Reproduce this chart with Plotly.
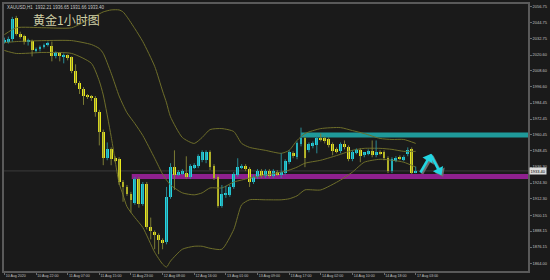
import math
import plotly.graph_objects as go

# ---------------- data (XAUUSD H1) ----------------
open_ = [2030.71, 2030.71, 2032.94, 2048.57, 2036.66, 2035.17, 2030.71, 2031.45, 2024.01, 2024.76,
         2026.99, 2028.48, 2027.73, 2019.55, 2021.78, 2019.55, 2020.29, 2018.81, 2008.39, 1999.46,
         1995.00, 1989.79, 1989.05, 1988.30, 1977.89, 1963.01, 1942.92, 1949.61, 1942.92, 1942.17,
         1925.06, 1921.34, 1916.13, 1909.44, 1927.29, 1908.69, 1923.57, 1890.84, 1887.12, 1884.89,
         1881.17, 1879.68, 1913.90, 1936.22, 1931.01, 1931.76, 1931.76, 1928.78, 1936.22, 1936.97,
         1941.43, 1941.43, 1947.38, 1936.97, 1928.78, 1907.21, 1915.39, 1915.39, 1921.34, 1930.27,
         1936.22, 1936.97, 1934.73, 1925.06, 1928.78, 1933.25, 1929.53, 1933.25, 1929.53, 1932.50,
         1931.01, 1931.76, 1939.94, 1946.64, 1943.66, 1953.33, 1957.80, 1948.87, 1952.59, 1952.59,
         1958.54, 1957.80, 1957.05, 1953.33, 1949.61, 1948.13, 1953.33, 1951.10, 1942.17, 1947.38,
         1948.87, 1945.15, 1946.64, 1948.13, 1945.15, 1947.38, 1947.38, 1942.92, 1933.25, 1941.43,
         1943.66, 1942.17, 1945.89, 1949.61, 1932.21]
high = [2033.69, 2034.43, 2049.31, 2050.05, 2038.15, 2035.92, 2032.94, 2032.20, 2026.25, 2027.73,
        2029.22, 2030.71, 2030.71, 2023.27, 2022.53, 2021.78, 2021.04, 2019.55, 2013.60, 2000.95,
        1996.49, 1991.28, 1990.53, 1989.79, 1979.37, 1964.49, 1954.82, 1951.10, 1944.41, 1943.66,
        1926.55, 1922.83, 1917.62, 1928.78, 1928.78, 1925.06, 1925.06, 1898.28, 1888.61, 1886.37,
        1882.65, 1921.34, 1939.20, 1948.87, 1933.99, 1934.73, 1944.41, 1938.45, 1939.20, 1945.89,
        1948.87, 1948.87, 1948.87, 1938.45, 1930.27, 1922.83, 1922.09, 1922.83, 1932.50, 1942.92,
        1938.45, 1938.45, 1936.22, 1930.27, 1934.73, 1934.73, 1934.73, 1934.73, 1934.73, 1933.99,
        1946.64, 1942.17, 1948.87, 1948.13, 1955.57, 1965.98, 1959.29, 1954.82, 1955.57, 1960.03,
        1961.52, 1959.29, 1958.54, 1954.82, 1951.10, 1954.82, 1956.31, 1952.59, 1948.87, 1950.36,
        1950.36, 1947.38, 1949.61, 1956.31, 1956.31, 1948.87, 1948.87, 1944.41, 1943.66, 1944.41,
        1945.15, 1945.15, 1951.10, 1951.10, 1936.65]
low = [2029.22, 2029.22, 2030.71, 2035.17, 2032.94, 2028.48, 2027.73, 2019.55, 2022.53, 2023.27,
       2025.50, 2026.99, 2015.83, 2018.06, 2015.83, 2014.34, 2016.57, 2006.90, 1997.97, 1991.28,
       1983.09, 1987.56, 1986.07, 1974.17, 1952.59, 1937.71, 1941.43, 1937.71, 1939.94, 1922.83,
       1910.18, 1914.65, 1902.00, 1907.95, 1905.72, 1907.21, 1889.35, 1881.91, 1874.47, 1870.75,
       1874.47, 1878.19, 1912.41, 1919.11, 1929.53, 1930.27, 1927.29, 1927.29, 1934.73, 1935.48,
       1939.94, 1939.20, 1933.99, 1926.55, 1905.72, 1905.72, 1913.16, 1913.90, 1919.85, 1928.78,
       1934.73, 1933.25, 1921.34, 1923.57, 1927.29, 1928.04, 1928.04, 1928.04, 1928.04, 1929.53,
       1928.04, 1930.27, 1938.45, 1942.92, 1942.17, 1951.85, 1936.22, 1947.38, 1950.36, 1946.64,
       1955.57, 1954.08, 1951.10, 1945.15, 1946.64, 1946.64, 1949.61, 1940.69, 1940.69, 1945.89,
       1939.94, 1943.66, 1945.15, 1943.66, 1943.66, 1945.15, 1941.43, 1931.76, 1931.76, 1939.94,
       1941.43, 1940.69, 1944.41, 1931.01, 1931.66]
close = [2032.20, 2032.94, 2047.82, 2036.66, 2034.43, 2030.71, 2031.45, 2024.01, 2024.76, 2026.99,
         2028.48, 2029.22, 2019.55, 2021.78, 2019.55, 2020.29, 2018.06, 2008.39, 1999.46, 1995.00,
         1989.79, 1989.05, 1988.30, 1977.89, 1963.01, 1942.92, 1949.61, 1942.17, 1941.43, 1925.06,
         1921.34, 1916.13, 1911.67, 1927.29, 1908.69, 1923.57, 1890.84, 1887.86, 1884.89, 1881.17,
         1879.68, 1913.90, 1936.22, 1930.27, 1932.50, 1933.25, 1928.78, 1936.97, 1937.71, 1944.41,
         1947.38, 1947.38, 1936.22, 1928.04, 1907.21, 1916.13, 1916.88, 1921.34, 1931.01, 1936.22,
         1936.97, 1934.73, 1925.06, 1928.78, 1933.25, 1929.53, 1933.25, 1929.53, 1933.25, 1931.01,
         1932.50, 1940.69, 1947.38, 1944.41, 1954.08, 1957.80, 1942.92, 1953.33, 1954.08, 1958.54,
         1957.05, 1955.57, 1952.59, 1948.13, 1948.13, 1953.33, 1951.10, 1942.17, 1947.38, 1948.87,
         1944.41, 1947.38, 1948.13, 1945.15, 1947.38, 1946.64, 1942.92, 1933.25, 1942.17, 1942.92,
         1942.92, 1943.66, 1948.87, 1931.76, 1933.40]
bars = list(range(len(open_)))

# Bollinger bands
bb_x = [0, 3, 10, 17, 22, 24, 25, 27, 29, 30, 31, 33, 35, 38, 40, 41, 42, 45, 48, 50,
        52, 55, 58, 60, 62, 66, 70, 72, 74, 76, 80, 85, 88, 91, 95, 98, 101, 104]
bb_upper = [2035.92, 2041.13, 2041.13, 2041.13, 2048.57, 2051.54, 2053.03, 2054.52, 2054.52, 2053.03,
            2049.31, 2040.38, 2030.71, 2012.11, 1993.51, 1984.58, 1974.17, 1958.54, 1954.08, 1958.54,
            1964.49, 1965.24, 1963.01, 1954.08, 1951.10, 1948.87, 1946.64, 1948.87, 1956.31, 1961.52,
            1965.24, 1965.98, 1963.75, 1961.52, 1957.80, 1957.05, 1957.05, 1954.08]
bb_mid = [2029.97, 2030.71, 2031.45, 2031.45, 2028.48, 2025.50, 2021.78, 2006.90, 1989.79, 1983.09,
          1977.14, 1968.96, 1960.03, 1942.92, 1931.01, 1926.55, 1922.83, 1916.88, 1915.39, 1916.88,
          1920.60, 1920.60, 1925.06, 1926.55, 1928.04, 1930.27, 1932.50, 1933.99, 1936.22, 1939.20,
          1941.43, 1945.89, 1948.87, 1950.36, 1950.36, 1949.61, 1948.13, 1948.13]
bb_lower = [2024.01, 2021.78, 2022.53, 2021.78, 2014.34, 2000.95, 1990.53, 1959.29, 1924.32, 1915.39,
            1906.46, 1898.28, 1890.84, 1872.24, 1863.31, 1861.08, 1865.54, 1874.47, 1876.70, 1876.70,
            1875.21, 1874.47, 1889.35, 1907.95, 1911.67, 1911.67, 1911.67, 1912.41, 1914.65, 1919.11,
            1919.11, 1926.55, 1932.50, 1939.94, 1942.17, 1941.43, 1939.94, 1936.22]

# zones
resistance_zone = [1958.54, 1962.27]
resistance_start = 75
support_zone = [1927.29, 1931.01]
support_start = 32.2
bid_price = 1933.40

# forecast arrow path (bar, price)
arrow_x = [105.2, 107.8, 110.4]
arrow_y = [1932.2, 1945.6, 1930.8]

y_ticks = [2056.75, 2044.75, 2032.75, 2020.60, 2008.60, 1996.60, 1984.45, 1972.45, 1960.45,
           1948.45, 1936.30, 1924.30, 1912.30, 1900.15, 1888.15, 1876.15, 1864.00]
x_tick_bars = [0, 8, 16, 24, 32, 40, 48, 56, 64, 72, 80, 88, 96, 104]
x_tick_labels = ["10 Aug 2020", "10 Aug 22:00", "11 Aug 07:00", "11 Aug 15:00", "11 Aug 23:00",
                 "12 Aug 08:00", "12 Aug 16:00", "13 Aug 01:00", "13 Aug 09:00", "13 Aug 17:00",
                 "14 Aug 02:00", "14 Aug 10:00", "14 Aug 18:00", "17 Aug 03:00"]

title_text = "黄金1小时图"
header_text = "XAUUSD,H1  1932.21 1936.65 1931.66 1933.40"

# ---------------- styling ----------------
BG = "#1a1a1a"
UP_BODY, DN_BODY = "#22d6e2", "#e8e81c"
UP_WICK, DN_WICK = "#2a8a94", "#7c7c34"
BB_COL = "#6e6e2a"
ARROW_COL = "#22d6e2"
X_RANGE = [-0.1, 132.4]
Y_RANGE = [1858.1, 2058.98]
PLOT_W, PLOT_H = 529, 270
PX_PER_X = PLOT_W / (X_RANGE[1] - X_RANGE[0])
PX_PER_Y = PLOT_H / (Y_RANGE[1] - Y_RANGE[0])

fig = go.Figure()

# Bollinger bands
for arr in (bb_upper, bb_mid, bb_lower):
    fig.add_trace(go.Scatter(x=bb_x, y=arr, mode="lines",
                             line=dict(color=BB_COL, width=1, shape="spline", smoothing=0.6),
                             hoverinfo="skip"))

# wicks
for up, col in ((True, UP_WICK), (False, DN_WICK)):
    wx, wy = [], []
    for i in bars:
        if (close[i] >= open_[i]) == up:
            wx += [i, i, None]
            wy += [low[i], high[i], None]
    fig.add_trace(go.Scatter(x=wx, y=wy, mode="lines", line=dict(color=col, width=1),
                             hoverinfo="skip"))

# bodies
base = [min(o, c) for o, c in zip(open_, close)]
height = [max(abs(c - o), 0.8) for o, c in zip(open_, close)]
colors = [UP_BODY if c >= o else DN_BODY for o, c in zip(open_, close)]
fig.add_trace(go.Bar(x=bars, y=height, base=base, width=0.72,
                     marker=dict(color=colors, line=dict(width=0)), hoverinfo="skip"))

# forecast arrows: grey shadow (offset) then cyan; heads are rotated triangles
for col, dx, dy in (("#6c6c6c", 0.4, -1.1), (ARROW_COL, 0.0, 0.0)):
    for k in range(len(arrow_x) - 1):
        x0, y0 = arrow_x[k] + dx, arrow_y[k] + dy
        x1, y1 = arrow_x[k + 1] + dx, arrow_y[k + 1] + dy
        ddx = (x1 - x0) * PX_PER_X
        ddy = (y1 - y0) * PX_PER_Y
        ang = math.degrees(math.atan2(ddx, ddy))  # clockwise from up
        # shorten the shaft so the head's tip sits at the end point
        seg = math.hypot(ddx, ddy)
        f = max(seg - 4.0, 0) / seg
        xm, ym = x0 + (x1 - x0) * f, y0 + (y1 - y0) * f
        fig.add_trace(go.Scatter(x=[x0, xm], y=[y0, ym], mode="lines",
                                 line=dict(color=col, width=2.6), hoverinfo="skip",
                                 cliponaxis=False))
        fig.add_trace(go.Scatter(x=[xm], y=[ym], mode="markers",
                                 marker=dict(symbol="triangle-up", size=10, color=col,
                                             angle=ang, line=dict(width=0)),
                                 hoverinfo="skip", cliponaxis=False))

shapes = [
    dict(type="rect", xref="x", yref="y", x0=resistance_start, x1=X_RANGE[1],
         y0=resistance_zone[0], y1=resistance_zone[1], fillcolor="#1f9a9a",
         line=dict(width=0), layer="below"),
    dict(type="rect", xref="x", yref="y", x0=support_start, x1=X_RANGE[1],
         y0=support_zone[0], y1=support_zone[1], fillcolor="#8e208e",
         line=dict(width=0), layer="below"),
    dict(type="line", xref="paper", yref="y", x0=0, x1=1, y0=bid_price, y1=bid_price,
         line=dict(color="#3c3c3c", width=1), layer="below"),
]

annotations = [
    dict(text=title_text, xref="paper", yref="paper", x=0.051, y=0.942, xanchor="left",
         yanchor="middle", showarrow=False,
         font=dict(family="Noto Sans CJK SC", size=12, color="#cfcfa6")),
    dict(text=header_text, xref="paper", yref="paper", x=0.002, y=0.988, xanchor="left",
         yanchor="middle", showarrow=False,
         font=dict(family="Liberation Sans", size=4.5, color="#c8c8c8")),
    dict(text=f"{bid_price:.2f}", xref="paper", yref="y", x=1.0, y=bid_price, xanchor="left",
         yanchor="middle", xshift=1, showarrow=False, bgcolor="#dcdcdc", borderpad=0.5,
         font=dict(family="Liberation Sans", size=4, color="#000000")),
]

fig.update_layout(
    width=550, height=280,
    margin=dict(l=2, r=19, t=2, b=8),
    paper_bgcolor=BG, plot_bgcolor=BG,
    showlegend=False, bargap=0,
    shapes=shapes, annotations=annotations,
    xaxis=dict(range=X_RANGE, showgrid=False, zeroline=False,
               tickmode="array", tickvals=x_tick_bars, ticktext=x_tick_labels,
               ticks="outside", ticklen=2, tickcolor="#6a6a6a",
               ticklabelposition="outside right",
               tickfont=dict(family="Liberation Sans", size=3.6, color="#c0c0c0"),
               showline=True, linecolor="#5a5a5a", linewidth=1.5, mirror=True),
    yaxis=dict(range=Y_RANGE, side="right", showgrid=False, zeroline=False,
               tickmode="array", tickvals=y_ticks, ticktext=[f"{v:.2f}" for v in y_ticks],
               ticks="outside", ticklen=2, tickcolor="#6a6a6a",
               tickfont=dict(family="Liberation Sans", size=4, color="#c0c0c0"),
               showline=True, linecolor="#5a5a5a", linewidth=1.5, mirror=True),
)

fig.write_html("out.html")
